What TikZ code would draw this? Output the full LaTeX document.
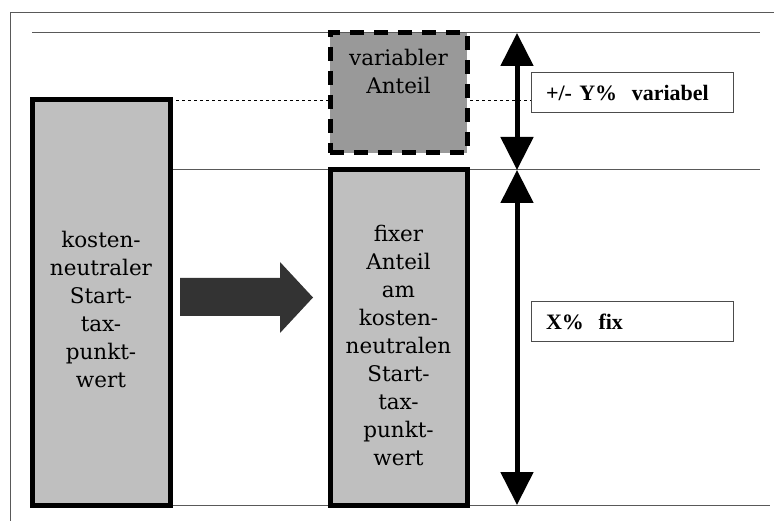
\documentclass[tikz,border=0pt]{standalone}
\usepackage{fontspec}
\setmainfont{DejaVu Serif}
\newfontfamily\labelfont{Liberation Serif}
\usetikzlibrary{arrows.meta}

\tikzset{
  part/.style={draw=black, line width=5pt, fill=gray!50, inner sep=0pt},
  varbox/.style={part, fill=gray!80, dash pattern=on 14pt off 10pt},
  parttext/.style={align=center, font=\fontsize{21.5}{28}\selectfont},
  tag/.style={draw=gray!60!black, line width=1pt, minimum width=202pt,
    minimum height=40pt, text width=172pt, inner sep=0pt, align=left,
    font=\labelfont\bfseries\fontsize{22}{24}\selectfont},
  grid/.style={gray!70!black, line width=1pt},
  span/.style={line width=5pt, {Triangle[width=32pt,length=33pt]}-{Triangle[width=32pt,length=33pt]}}
}

\begin{document}
\begin{tikzpicture}[x=1pt,y=-1pt]
\useasboundingbox (0,0) rectangle (774,521);
% frame
\draw[grid] (10,521) -- (10,13) -- (774,13);
% levels
\draw[grid] (32,33) -- (760,33);
\draw[grid] (170,170) -- (760,170);
\draw[grid] (170,505) -- (770,505);
\draw[dashed, line width=0.8pt] (170,100) -- (531,100);
% boxes
\node[part, minimum width=138pt, minimum height=405pt] (start) at (101,302.5) {};
\node[parttext] at (101,309)
  {kosten-\\neutraler\\Start-\\tax-\\punkt-\\wert};
\node[varbox, minimum width=137pt, minimum height=120pt] (varpart) at (398.5,93) {};
\node[parttext] at (398.5,71)
  {variabler\\Anteil};
\node[part, minimum width=137pt, minimum height=335pt] (fixpart) at (398.5,337.5) {};
\node[parttext] at (398.5,345)
  {fixer\\Anteil\\am\\kosten-\\neutralen\\Start-\\tax-\\punkt-\\wert};
% shift arrow
\fill[black!80] (180,278) -- (280,278) -- (280,262) -- (313,297.5)
  -- (280,333) -- (280,316) -- (180,316) -- cycle;
% spans
\coordinate (ytop) at (517,33);
\coordinate (ymid) at (517,170);
\coordinate (ybot) at (517,505);
\draw[span] (ytop) -- (ymid);
\draw[span] (ymid) -- (ybot);
% labels
\node[tag, fill=white] (varlabel) at (632,93) {+/- Y\%\ \ variabel};
\node[tag, fill=white] (fixlabel) at (632,322) {X\%\ \ fix};
\end{tikzpicture}
\end{document}
